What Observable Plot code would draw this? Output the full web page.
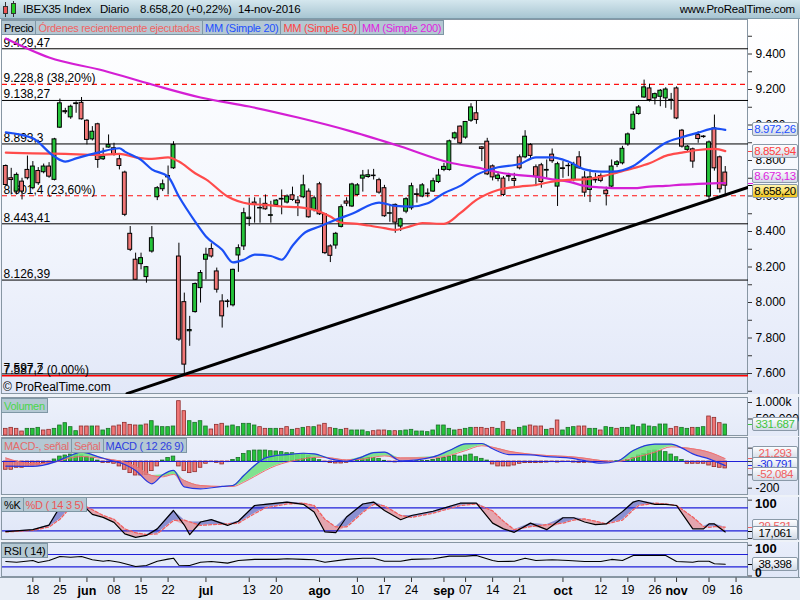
<!DOCTYPE html>
<html><head><meta charset="utf-8">
<script src="https://cdn.jsdelivr.net/npm/d3@7"></script>
<script src="https://cdn.jsdelivr.net/npm/@observablehq/plot@0.6"></script>
<style>
html,body{margin:0;padding:0;background:#fff;}
#root{position:relative;width:800px;height:600px;overflow:hidden;background:#eef2f8;font-family:"Liberation Sans",Arial,sans-serif;}
.leg{position:absolute;left:1px;display:flex;height:15px;}
.leg span{display:block;height:15px;line-height:14px;font-size:11px;letter-spacing:-0.3px;padding:0 2px;background:#b4c8d3;border:1px solid #7f97a5;box-sizing:border-box;margin-right:-1px;white-space:nowrap;}
.box{position:absolute;left:752px;width:46px;height:14px;line-height:12px;font-size:11.5px;text-align:center;border:1px solid #8a99a8;border-radius:2px;box-sizing:border-box;background:linear-gradient(#fdfeff,#d2dae6);letter-spacing:-0.4px;white-space:nowrap;overflow:hidden;}
.hd{position:absolute;top:3px;font-size:11.5px;letter-spacing:-0.2px;white-space:pre;color:#000;}
</style></head>
<body><div id="root"></div>
<script>
// ---------------- DATA ----------------
// trading-day index 0 = 11-may-2016 ... 133 = 14-nov-2016
const open  = [8769,8700,8625,8681,8747,8644,8741,8734,8766,8691, 8985,9078,9043,9118,9125,9024,8919,9004,8807,8873, 8869,8807,8732,8387,8241,8216,8143,8287,8593,8638, 8705,8756,8259,8002,7838,7946,8081,8241,8301,8175, 8006,8006,7984,8265,8316,8470,8563,8530,8556,8488, 8550,8580,8563,8604,8574,8593,8625,8522,8666,8497, 8316,8321,8426,8569,8541,8606,8698,8707,8712,8689, 8644,8500,8550,8428,8512,8531,8610,8597,8610,8625, 8679,8747,8747,8925,8991,8929,9024,9066,8874,8906, 8767,8696,8698,8709,8696,8818,8818,8887,8762,8773, 8743,8833,8653,8752,8768,8691,8818,8704,8634,8688, 8713,8630,8653,8775,8784,8891,8976,9062,9155,9206, 9150,9159,9150,9139,9206,8968,8860,8863,8943,8932, 8597,8981,8818,8732];
const high  = [8775,8756,8730,8700,8825,8794,8760,8780,8788,8925, 9146,9094,9112,9131,9155,9030,8991,9010,8869,8944, 8897,8831,8740,8428,8278,8278,8203,8428,8653,8690, 8769,8906,8334,8053,7922,8110,8180,8306,8331,8194, 8044,8016,8188,8325,8531,8588,8590,8587,8606,8570, 8580,8634,8606,8650,8597,8717,8640,8600,8677,8500, 8325,8395,8550,8590,8672,8670,8744,8747,8750,8700, 8660,8546,8555,8475,8590,8672,8640,8670,8640,8700, 8750,8784,8915,8960,8995,9020,9120,9137,8878,8925, 8775,8735,8710,8728,8728,8831,8968,8895,8775,8784, 8803,8865,8790,8794,8784,8790,8850,8737,8747,8728, 8725,8650,8803,8800,8880,8955,9075,9110,9253,9230, 9180,9200,9210,9178,9215,8975,8885,8870,8962,8940, 8910,9056,8825,8766];
const low   = [8656,8606,8606,8578,8690,8635,8660,8725,8700,8685, 8980,9060,9032,9066,9028,8888,8910,8756,8800,8870, 8825,8747,8484,8287,8125,8184,8109,8278,8574,8625, 8606,8750,7781,7594,7753,7940,7997,8128,8250,8053, 7856,7970,7975,8170,8293,8428,8447,8447,8520,8447, 8540,8494,8555,8570,8484,8585,8475,8510,8490,8270, 8225,8300,8420,8540,8535,8600,8622,8700,8690,8610, 8480,8452,8390,8400,8500,8520,8560,8590,8590,8620, 8670,8737,8740,8915,8890,8920,9015,9004,8794,8715, 8685,8680,8597,8681,8644,8747,8810,8800,8653,8644, 8700,8784,8541,8700,8709,8680,8750,8593,8563,8672, 8675,8544,8645,8760,8775,8880,8970,9055,9150,9130, 9113,9103,9094,9084,9030,8870,8850,8756,8897,8925, 8578,8740,8616,8606];
const close = [8662,8690,8719,8625,8700,8766,8672,8766,8709,8919, 9122,9072,9103,9122,9032,8916,8962,8803,8822,8887, 8831,8769,8494,8297,8128,8250,8199,8362,8644,8666, 8712,8887,7791,7650,7845,8104,8166,8269,8259,8072, 7922,8003,8184,8306,8503,8478,8550,8533,8525,8492, 8574,8584,8597,8578,8559,8660,8480,8587,8497,8278, 8263,8387,8537,8557,8665,8660,8715,8717,8715,8619, 8486,8503,8450,8469,8582,8655,8606,8660,8614,8683, 8715,8764,8908,8953,8897,9017,9099,9028,8865,8722, 8705,8715,8606,8712,8685,8756,8934,8826,8709,8679, 8747,8796,8779,8756,8770,8775,8756,8619,8705,8691, 8685,8610,8766,8790,8866,8947,9058,9099,9212,9141, 9174,9193,9200,9142,9037,8878,8878,8794,8921,8935, 8902,8756,8638,8658.2];

// moving averages (index, value)
const ma20Idx = [0,5,9,11,13,17,21,22,25,27,30,32,35,37,40,42,44,46,49,51,53,55,58,61,64,69,72,75,78,81,84,87,91,95,98,101,104,107,110,112,116,119,122,125,128,131,133];
const ma20Val = [8959,8925,8822,8794,8812,8844,8869,8850,8803,8750,8709,8597,8456,8372,8297,8226,8241,8270,8262,8241,8320,8387,8428,8466,8500,8563,8544,8541,8559,8616,8657,8719,8762,8780,8818,8818,8794,8750,8737,8737,8769,8837,8900,8931,8957,8981,8972.26];
const ma50Idx = [0,5,11,17,21,24,27,30,32,35,37,41,45,48,51,54,58,60,62,65,67,70,72,75,77,81,84,87,91,95,98,101,104,107,110,113,116,119,122,125,128,131,133];
const ma50Val = [8844,8840,8837,8831,8837,8818,8809,8818,8794,8728,8694,8597,8556,8550,8541,8537,8512,8484,8450,8443,8434,8419,8409,8432,8447,8443,8503,8578,8634,8653,8662,8681,8691,8694,8709,8732,8756,8784,8826,8844,8859,8865,8852.94];
const ma200Idx = [0,8,18,27,36,45,54,64,73,82,88,91,94,98,101,104,107,110,113,116,119,122,125,128,133];
const ma200Val = [9487,9380,9307,9228,9155,9104,9042,8963,8879,8789,8755,8734,8720,8709,8694,8681,8657,8649,8644,8644,8653,8657,8664,8668,8673.13];

// support trend line (two ends)
const trendIdx = [22.4, 137.3];
const trendVal = [7487, 8650];

// horizontal levels
const levelVal   = [9429.47, 9228.8, 9138.27, 8893.3, 8601.4, 8443.41, 8126.39, 7597.7, 7587.2];
const levelLabel = ["9.429,47","9.228,8 (38,20%)","9.138,27","8.893,3","8.601,4 (23,60%)","8.443,41","8.126,39","7.597,7","7.587,2 (0,00%)"];
const levelKind  = ["black","dash","black","black","dash","black","black","black","red"];

// volume (thousands) and direction (G up / R down)
const volume = [202,232,202,121,202,202,232,152,172,202, 303,374,253,131,273,273,273,273,152,202, 273,303,384,323,303,303,333,434,273,253, 253,273,1040,737,434,384,434,273,182,323, 354,273,303,253,354,354,303,253,202,202, 202,202,253,172,202,232,253,253,303,354, 222,202,172,202,152,152,152,101,131,152, 152,131,131,131,152,172,121,121,101,152, 303,303,202,152,172,202,232,232,232,202, 232,202,404,172,152,232,273,303,273,273, 172,202,455,152,232,253,273,273,202,202, 152,253,232,202,232,232,303,253,333,273, 253,333,333,202,253,232,202,232,232,253, 576,535,374,331.687];
const volumeDir = "RRRRGGGRRG"+"GGGGRRGRGG"+"RRRRRGRGGG"+"GGRRGGGGRR"+"RGGGGGGRRG"+"GRRGRGRGRR"+"RGGRGGGGRR"+"RGRGGGGGGG"+"GGGGRGGRRR"+"RGRGRGGRRR"+"GRRGGGRRGG"+"RGGRGGGGGG"+"GGGRRGGRGG"+"RRRG";

// MACD (12 26 9)
const macdHist = [-62,-62,-47,-47,-42,-30,-30,-12,-12,15, 37,45,52,52,45,32,25,7,-10,-10, -17,-37,-62,-87,-105,-105,-100,-72,-37,7, 27,37,-37,-72,-87,-80,-47,-17,-5,-10, -22,-5,12,27,57,77,82,82,82,77, 75,70,62,62,52,52,40,25,10,-5, -12,-15,-15,-10,-5,12,22,27,27,20, 5,-5,-7,-5,-3,-3,3,3,5,12, 20,27,37,45,37,45,52,32,20,7, -22,-37,-37,-37,-30,-17,-12,-12,-12,-10, -8,-5,-8,-5,-3,-8,-10,-10,-8,-5, -5,-8,-3,3,5,12,27,45,57,77, 82,77,70,52,32,12,-17,-17,-17,-17, -30,-42,-47,-52.084];
const macdIdx    = [0,5,9,12,14,17,19,22,24,27,29,31,33,36,40,42,44,46,48,50,52,55,57,60,63,66,68,70,73,79,82,85,88,90,93,97,100,104,107,110,113,116,120,123,125,127,130,133];
const macdLine   = [-35,-37,-5,45,70,37,12,-22,-67,-167,-100,-67,-190,-205,-187,-180,-105,-30,27,45,52,62,57,20,2,37,67,70,5,35,82,132,135,95,52,50,37,27,7,-12,2,82,130,130,100,57,20,-30.791];
const macdSignal = [27,-17,-5,27,37,27,17,-5,-37,-105,-115,-97,-142,-180,-187,-187,-155,-112,-67,-30,-5,20,32,27,12,17,32,42,27,27,45,82,118,107,77,55,45,37,25,7,0,27,70,110,105,95,70,21.293];

// Stochastic %K / %D (14 3 5)
const stochIdx = [0,5,8,10,12,14,16,18,20,22,24,26,28,31,33,34,36,38,41,43,46,48,52,55,57,59,61,63,66,68,70,73,75,79,84,87,90,92,94,97,100,103,105,107,109,111,114,116,117,120,122,124,127,129,130,131,133];
const stochK = [18,23,35,82,90,90,63,55,42,12,3,8,25,73,35,10,43,49,34,45,86,89,95,89,69,17,15,56,90,95,73,49,60,71,92,92,40,25,16,40,23,54,54,43,36,38,70,95,99,89,89,86,25,25,38,38,17.061];
const stochD = [17,21,30,50,82,89,75,60,50,25,15,10,12,47,48,43,34,36,38,40,65,80,90,92,86,50,30,30,68,89,85,60,55,66,86,90,72,45,23,31,36,40,48,51,45,38,48,75,86,92,90,86,56,31,29,31,29.521];

// RSI (14)
const rsiIdx = [0,2,5,6,8,10,12,14,16,18,19,21,24,26,28,30,31,32,34,36,38,41,43,46,50,52,55,57,59,63,66,68,70,73,75,79,82,85,87,90,91,94,96,98,101,104,107,110,112,114,116,119,122,124,127,128,130,131,133];
const rsiVal = [47,45,50.5,44,50.5,63.5,61,63.5,53,48,50.5,45,31,34,48,55,58,35,34,45,47,42,50.5,54,54,56,54,53,45,54,58,58,48,48,54,56,64.6,64.6,67,50.5,47,48,58,50.5,53,50.5,47,47,54,50.5,67,67,67,47,45,48,48,40,38.398];

// date axis
const dateIdx = [5,10,15,20,25,30,37,45,50,58,65,70,75,81,85,90,95,103,110,115,120,124,130,135];
const dateLab = ["18","25","jun","08","15","22","jul","13","20","ago","10","17","24","sep","07","14","21","oct","12","19","26","nov","09","16"];
const monthLab = ["jun","jul","ago","sep","oct","nov"];

// ---------------- RENDER ----------------
const root = document.getElementById("root");
const FONT = '"Liberation Sans", Arial, sans-serif';
const GREEN = "#25c43a", RED = "#f07676";
const loc = d3.formatLocale({decimal: ",", thousands: ".", grouping: [3], currency: ["", "€"], minus: "-"});
const fInt = loc.format(",d"), f2 = loc.format(",.2f"), f3 = loc.format(",.3f");
const xDom = [-0.61, 137.3];
const pxPerIdx = 746 / (xDom[1] - xDom[0]);

function el(css, html) { const e = document.createElement("div"); e.style.cssText = css; if (html != null) e.innerHTML = html; root.appendChild(e); return e; }

const P = {price: [19, 394], vol: [397, 436], macd: [437, 495], stoch: [497, 540], rsi: [542, 577]};
const bg = {price: "linear-gradient(#ffffff 0%,#f3f6fd 55%,#e2e8f8 100%)", vol: "linear-gradient(#edf1fb,#e4eaf8)", macd: "linear-gradient(#ebeffb,#e1e7f7)", stoch: "linear-gradient(#e9eefb,#dfe6f7)", rsi: "linear-gradient(#e9eefb,#e0e7f7)"};

// header
el("position:absolute;left:0;top:0;width:800px;height:19px;background:linear-gradient(#d5e7ee,#a7c5d2);border-bottom:1px solid #7f9cab;box-sizing:border-box;");
el("position:absolute;left:5px;top:2px;width:1px;height:15px;background:#333;");
el("position:absolute;left:3px;top:6px;width:5px;height:8px;background:#e55;border:1px solid #333;box-sizing:border-box;");
el("position:absolute;left:13px;top:1px;width:1px;height:16px;background:#333;");
el("position:absolute;left:11px;top:3px;width:5px;height:11px;background:#2c2;border:1px solid #333;box-sizing:border-box;");
el("left:23px;", "IBEX35 Index").className = "hd";
el("left:100px;", "Diario").className = "hd";
el("left:140px;", "8.658,20 (+0,22%)").className = "hd";
el("left:238px;", "14-nov-2016").className = "hd";
el("right:5px;", "www.ProRealTime.com").className = "hd";

// panel backgrounds and frames
for (const k of Object.keys(P)) {
  const [t, b] = P[k];
  el(`position:absolute;left:0;top:${t}px;width:800px;height:${b - t}px;background:${bg[k]};`);
  el(`position:absolute;left:1px;top:${t}px;width:747px;height:${b - t}px;border:1px solid #8796a3;box-sizing:border-box;`);
  el(`position:absolute;left:798px;top:${t}px;width:1px;height:${b - t}px;background:#8796a3;`);
}
el("position:absolute;left:0;top:577px;width:800px;height:23px;background:#e9eef7;border-top:1px solid #8796a3;box-sizing:border-box;");

function panel(key, yDomain, marks) {
  const [t, b] = P[key];
  const p = Plot.plot({
    width: 800, height: b - t, marginLeft: 2, marginRight: 52, marginTop: 0, marginBottom: 0,
    x: {domain: xDom, axis: null},
    y: {domain: yDomain, axis: null},
    style: {background: "transparent", overflow: "visible", fontFamily: FONT, fontSize: "12px"},
    marks
  });
  p.style.position = "absolute"; p.style.left = "0px"; p.style.top = t + "px";
  root.appendChild(p);
  return p;
}
const rightTicks = (vals, len = 4) => Plot.ruleY(vals, {y: d => d, x1: () => xDom[1], x2: () => xDom[1] + len / pxPerIdx, stroke: "#333", strokeWidth: 1});

// ---- price panel
const candles = open.map((o, i) => ({i, o, h: high[i], l: low[i], c: close[i]}));
const levels = levelVal.map((v, k) => ({v, t: levelLabel[k], kind: levelKind[k]}));
const ma20 = ma20Idx.map((i, k) => ({i, v: ma20Val[k]}));
const ma50 = ma50Idx.map((i, k) => ({i, v: ma50Val[k]}));
const ma200 = ma200Idx.map((i, k) => ({i, v: ma200Val[k]}));
const trend = trendIdx.map((i, k) => ({i, v: trendVal[k]}));
const priceTicks = d3.range(7500, 9600, 100);

const price = panel("price", [7481.7, 9594.4], [
  Plot.ruleY(levels.filter(d => d.kind === "black"), {y: "v", stroke: "#000", strokeWidth: 1}),
  Plot.ruleY(levels.filter(d => d.kind === "dash"), {y: "v", stroke: "#ff1010", strokeWidth: 1.2, strokeDasharray: "5,4"}),
  Plot.ruleY(levels.filter(d => d.kind === "red"), {y: "v", stroke: "#ff0000", strokeWidth: 1.5}),
  Plot.text(levels, {x: () => xDom[0], y: "v", text: "t", textAnchor: "start", dx: 1, dy: -6, fontSize: 12, fill: "#000"}),
  Plot.ruleX(candles, {x: "i", y1: "l", y2: "h", stroke: "#000", strokeWidth: 1}),
  Plot.rect(candles, {x1: d => d.i - 0.36, x2: d => d.i + 0.36, y1: "o", y2: "c", fill: d => d.c >= d.o ? GREEN : RED, stroke: "#000", strokeWidth: 1}),
  Plot.line(ma200, {x: "i", y: "v", stroke: "#d41fd4", strokeWidth: 2.2, curve: "monotone-x", clip: true}),
  Plot.line(ma50, {x: "i", y: "v", stroke: "#ff4b4b", strokeWidth: 2.2, curve: "monotone-x", clip: true}),
  Plot.line(ma20, {x: "i", y: "v", stroke: "#1b4ff5", strokeWidth: 2.2, curve: "monotone-x", clip: true}),
  Plot.line(trend, {x: "i", y: "v", stroke: "#000", strokeWidth: 3, clip: true}),
  rightTicks(priceTicks, 4),
  Plot.text(priceTicks.filter(v => v % 200 === 0), {x: () => xDom[1], y: d => d, text: d => fInt(d), textAnchor: "start", dx: 7, fontSize: 12, fill: "#000"})
]);

// ---- volume panel
const vols = volume.map((v, i) => ({i, v, up: volumeDir[i] === "G"}));
const vol = panel("vol", [-30, 1151.5], [
  Plot.rect(vols, {x1: d => d.i - 0.33, x2: d => d.i + 0.33, y1: () => 0, y2: "v", fill: d => d.up ? GREEN : RED, stroke: d => d.up ? "#1d6e2a" : "#8e2c2c", strokeWidth: 0.8}),
  rightTicks([500, 1000], 4),
  Plot.text([1000], {x: () => xDom[1], y: d => d, text: () => "1.000k", textAnchor: "start", dx: 7, fontSize: 12, fill: "#000"}),
  Plot.text([500], {x: () => xDom[1], y: d => d, text: d => fInt(d * 1000), textAnchor: "start", dx: 7, fontSize: 12, fill: "#000"})
]);

// ---- MACD panel
const hist = macdHist.map((v, i) => ({i, v}));
const mac = macdIdx.map((i, k) => ({i, m: macdLine[k], s: macdSignal[k]}));
const macd = panel("macd", [-254.7, 179.8], [
  Plot.rect(hist, {x1: d => d.i - 0.33, x2: d => d.i + 0.33, y1: () => 0, y2: "v", fill: d => d.v >= 0 ? GREEN : RED, stroke: d => d.v >= 0 ? "#1d6e2a" : "#8e2c2c", strokeWidth: 0.8}),
  Plot.areaY(mac, {x: "i", y1: "s", y2: d => Math.max(d.m, d.s), fill: "#6fe07c", fillOpacity: 0.85, curve: "monotone-x"}),
  Plot.areaY(mac, {x: "i", y1: "s", y2: d => Math.min(d.m, d.s), fill: "#df7a82", fillOpacity: 0.8, curve: "monotone-x"}),
  Plot.ruleY([0], {stroke: "#1f1fd8", strokeWidth: 1.2}),
  Plot.line(mac, {x: "i", y: "s", stroke: "#f07070", strokeWidth: 1, curve: "monotone-x"}),
  Plot.line(mac, {x: "i", y: "m", stroke: "#2536e0", strokeWidth: 1.2, curve: "monotone-x"}),
  rightTicks([-200, -100, 0, 100], 4),
  Plot.text([-200], {x: () => xDom[1], y: d => d, text: d => fInt(d), textAnchor: "start", dx: 7, fontSize: 12, fill: "#000"})
]);

// ---- Stochastic panel
const st = stochIdx.map((i, k) => ({i, k: stochK[k], d: stochD[k]}));
const stoch = panel("stoch", [-5.3, 106.9], [
  Plot.areaY(st, {x: "i", y1: "d", y2: d => Math.max(d.k, d.d), fill: "#6c72c4", fillOpacity: 0.75}),
  Plot.areaY(st, {x: "i", y1: "d", y2: d => Math.min(d.k, d.d), fill: "#e39aa2", fillOpacity: 0.85}),
  Plot.ruleY([80, 20], {stroke: "#1f1fd8", strokeWidth: 1.2}),
  Plot.line(st, {x: "i", y: "d", stroke: "#f06060", strokeWidth: 1.3, strokeDasharray: "3,2"}),
  Plot.line(st, {x: "i", y: "k", stroke: "#000", strokeWidth: 1.2}),
  rightTicks([100, 0], 4)
]);

// ---- RSI panel
const rs = rsiIdx.map((i, k) => ({i, v: rsiVal[k]}));
const rsi = panel("rsi", [-4.8, 109], [
  Plot.ruleY([70, 30], {stroke: "#1f1fd8", strokeWidth: 1.2}),
  Plot.line(rs, {x: "i", y: "v", stroke: "#000", strokeWidth: 1.1}),
  rightTicks([100, 0], 4)
]);

// ---- date axis
const dates = dateIdx.map((i, k) => ({i, t: dateLab[k], b: monthLab.includes(dateLab[k])}));
const dateAxis = Plot.plot({
  width: 800, height: 23, marginLeft: 2, marginRight: 52, marginTop: 0, marginBottom: 0,
  x: {domain: xDom, axis: null}, y: {domain: [23, 0], axis: null},
  style: {background: "transparent", overflow: "visible", fontFamily: FONT},
  marks: [
    Plot.ruleX(dates, {x: "i", y1: () => 0.5, y2: () => 5, stroke: "#333"}),
    Plot.text(dates.filter(d => !d.b), {x: "i", y: () => 13, text: "t", fontSize: 12, fill: "#000"}),
    Plot.text(dates.filter(d => d.b), {x: "i", y: () => 13, text: "t", fontSize: 12.5, fontWeight: "bold", fill: "#000"})
  ]
});
dateAxis.style.position = "absolute"; dateAxis.style.left = "0px"; dateAxis.style.top = "577px";
root.appendChild(dateAxis);

// ---- legends
function legend(top, items) {
  const d = el(`top:${top}px;`); d.className = "leg";
  d.innerHTML = items.map(([t, c]) => `<span style="color:${c}">${t}</span>`).join("");
}
legend(20, [["Precio", "#000"], ["Órdenes recientemente ejecutadas", "#f06464"], ["MM (Simple 20)", "#1e50ff"], ["MM (Simple 50)", "#ff4545"], ["MM (Simple 200)", "#e01ee0"]]);
legend(398, [["Volumen", "#49d649"]]);
legend(438, [["MACD-, señal", "#e56a6a"], ["Señal", "#e56a6a"], ["MACD ( 12 26 9)", "#2f3fe0"]]);
legend(497, [["%K", "#000"], ["%D ( 14 3 5)", "#ee5555"]]);
legend(543, [["RSI ( 14)", "#000"]]);
el("position:absolute;left:3px;top:380px;font-size:12px;white-space:pre;", "© ProRealTime.com");

// ---- right value boxes
function spread(items, gap) {
  items.sort((a, b) => a.y - b.y);
  for (let it = 0; it < 60; it++) {
    let moved = false;
    for (let j = 1; j < items.length; j++) {
      const dd = items[j].y - items[j - 1].y;
      if (dd < gap - 0.01) { const s = (gap - dd) / 2; items[j].y += s; items[j - 1].y -= s; moved = true; }
    }
    if (!moved) break;
  }
}
function boxes(key, plot, items, gap) {
  const top = P[key][0], sc = plot.scale("y");
  items.forEach(d => { d.y0 = top + sc.apply(d.v); d.y = d.y0; });
  spread(items, gap);
  items.sort((a, b) => a.order - b.order).forEach(d => {
    el(`position:absolute;left:748px;top:${Math.round(d.y0)}px;width:5px;height:1px;background:${d.tick || d.color};`);
    const b = el(`top:${Math.round(d.y - 7)}px;color:${d.color};${d.bg ? "background:" + d.bg + ";" : ""}`, d.text);
    b.className = "box";
  });
}
boxes("price", price, [
  {v: ma20Val[ma20Val.length - 1], text: f2(ma20Val[ma20Val.length - 1]), color: "#1e50ff", order: 0},
  {v: ma50Val[ma50Val.length - 1], text: f2(ma50Val[ma50Val.length - 1]), color: "#ff4040", order: 1},
  {v: ma200Val[ma200Val.length - 1], text: f2(ma200Val[ma200Val.length - 1]), color: "#e01ee0", order: 2},
  {v: close[close.length - 1], text: f2(close[close.length - 1]), color: "#000", tick: "#000", bg: "linear-gradient(#fff6b0,#f0c419)", order: 3}
], 15);
boxes("vol", vol, [{v: volume[volume.length - 1], text: fInt(Math.round(volume[volume.length - 1] * 1000)), color: "#3ec43e", order: 0}], 15);
boxes("macd", macd, [
  {v: macdSignal[macdSignal.length - 1], text: f3(macdSignal[macdSignal.length - 1]), color: "#f06060", order: 0},
  {v: macdLine[macdLine.length - 1], text: f3(macdLine[macdLine.length - 1]), color: "#2030e8", order: 1},
  {v: macdHist[macdHist.length - 1], text: f3(macdHist[macdHist.length - 1]), color: "#f06060", order: 2}
], 10.5);
boxes("stoch", stoch, [
  {v: stochD[stochD.length - 1], text: f3(stochD[stochD.length - 1]), color: "#f06060", order: 0},
  {v: stochK[stochK.length - 1], text: f3(stochK[stochK.length - 1]), color: "#000", order: 1}
], 7);
boxes("rsi", rsi, [{v: rsiVal[rsiVal.length - 1], text: f3(rsiVal[rsiVal.length - 1]), color: "#000", order: 0}], 10);

// fixed top labels of indicator scales
el("position:absolute;left:755px;top:496px;font-size:13px;font-weight:bold;", "100");
el("position:absolute;left:755px;top:541px;font-size:13px;font-weight:bold;", "100");
el("position:absolute;left:755px;top:567px;height:10px;line-height:12px;overflow:hidden;font-size:12px;font-weight:bold;", "0");
</script></body></html>
